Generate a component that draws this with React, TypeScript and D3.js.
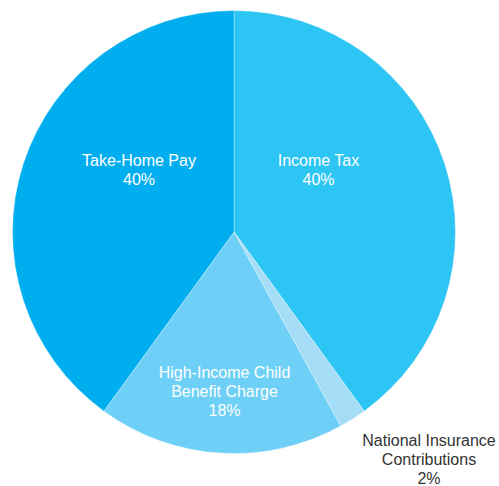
import React from "react";
import * as d3 from "d3";

const categories = [
  "Income Tax",
  "National Insurance Contributions",
  "High-Income Child Benefit Charge",
  "Take-Home Pay",
];
const values = [40, 2, 18, 40];
const colors = ["#2dc5f4", "#a5ddf7", "#6ed0f6", "#00aeef"];
const labelLines = [
  ["Income Tax", "40%"],
  ["National Insurance", "Contributions", "2%"],
  ["High-Income Child", "Benefit Charge", "18%"],
  ["Take-Home Pay", "40%"],
];

const W = 499;
const H = 486;
const CX = 234;
const CY = 232;
const R = 221.5;
const LINE_H = 19;
// label anchor (centre x, first baseline y) offsets relative to pie centre
const labelAnchors: [number, number][] = [
  [84.5, -66.3],
  [195, 213.8],
  [-9.5, 145.7],
  [-95, -66.3],
];
const labelColors = ["#ffffff", "#333333", "#ffffff", "#ffffff"];

export default function App() {
  const pie = d3
    .pie<number>()
    .sort(null)
    .value((d) => d);
  const arcs = pie(values);
  const arc = d3.arc<d3.PieArcDatum<number>>().innerRadius(0).outerRadius(R);

  return (
    <svg
      width={W}
      height={H}
      style={{ position: "absolute", left: 0, top: 0, display: "block" }}
    >
      <g transform={`translate(${CX},${CY})`}>
        {arcs.map((a, i) => (
          <path
            key={categories[i]}
            d={arc(a) || ""}
            fill={colors[i]}
            stroke="#ffffff"
            strokeWidth={0.6}
            strokeOpacity={0.6}
          />
        ))}
        {labelLines.map((lines, i) => (
          <text
            key={"l" + i}
            x={labelAnchors[i][0]}
            y={labelAnchors[i][1]}
            textAnchor="middle"
            fill={labelColors[i]}
            style={{ fontFamily: "'Liberation Sans', Arial, sans-serif", fontSize: 16 }}
          >
            {lines.map((t, j) => (
              <tspan key={j} x={labelAnchors[i][0]} dy={j === 0 ? 0 : LINE_H}>
                {t}
              </tspan>
            ))}
          </text>
        ))}
      </g>
    </svg>
  );
}
